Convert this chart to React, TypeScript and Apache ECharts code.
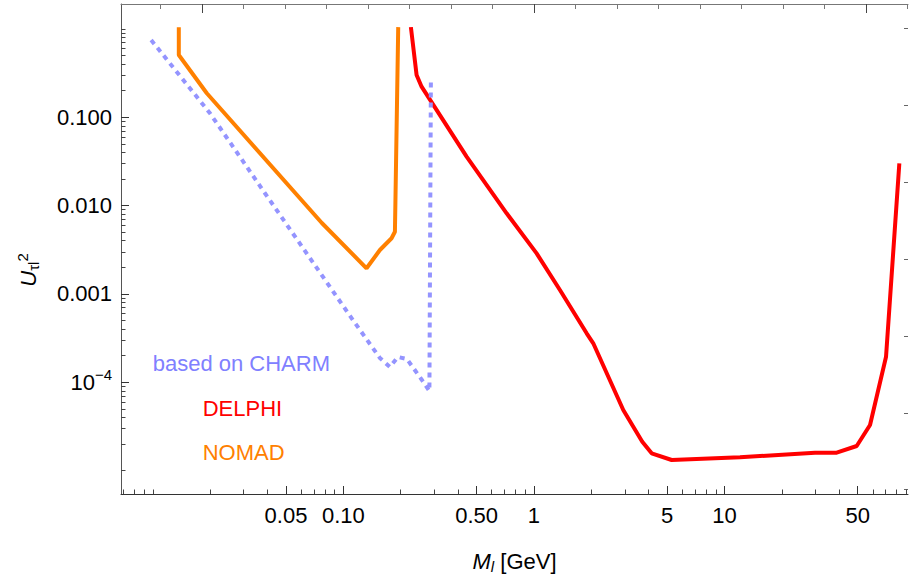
import React, { useEffect, useRef } from 'react';
import * as echarts from 'echarts';

// ---- data (mass in GeV, mixing |U|^2) ----
const charmMass = [0.0098, 0.0199, 0.0387, 0.1122, 0.1555, 0.1754, 0.1932, 0.2155, 0.2583, 0.2828, 0.2879];
const charmU = [0.75, 0.1119, 0.01389, 5.06e-4, 1.88e-4, 1.487e-4, 1.93e-4, 1.83e-4, 1.06e-4, 7.95e-5, 0.2645];

const nomadMass = [0.01369, 0.01369, 0.0192, 0.0771, 0.1323, 0.1555, 0.179, 0.1864, 0.1875, 0.194];
const nomadU = [1.05, 0.5077, 0.187, 6.35e-3, 1.95e-3, 3.14e-3, 4.27e-3, 5.06e-3, 0.0107, 1.05];

const delphiMass = [0.2261, 0.2422, 0.2573, 0.4432, 0.7189, 1.033, 1.369, 1.891, 2.048, 2.943, 3.703, 4.148, 5.283, 12.06, 29.85, 38.8, 49.4, 58.04, 70.43, 82.7];
const delphiU = [1.05, 0.3013, 0.2221, 0.0358, 8.18e-3, 2.88e-3, 1.107e-3, 3.58e-4, 2.76e-4, 4.84e-5, 2.12e-5, 1.566e-5, 1.315e-5, 1.411e-5, 1.591e-5, 1.591e-5, 1.895e-5, 3.276e-5, 1.944e-4, 0.0301];

// ---- axes ----
const xRange = [0.006808, 91.83];
const yRange = [5.42e-6, 1.919];

const xMajor = [0.05, 0.1, 0.5, 1, 5, 10, 50];
const xMajorLabels = ['0.05', '0.10', '0.50', '1', '5', '10', '50'];
const xMinor = [0.007, 0.008, 0.009, 0.01, 0.02, 0.03, 0.04, 0.06, 0.07, 0.08, 0.09, 0.2, 0.3, 0.4, 0.6, 0.7, 0.8, 0.9, 2, 3, 4, 6, 7, 8, 9, 20, 30, 40, 60, 70, 80, 90];

const yMajor = [0.1, 0.01, 0.001, 1e-4];
const yMajorLabels = ['0.100', '0.010', '0.001', '{b|10}{s|−4}'];
const yMinor = [1e-5, 2e-5, 3e-5, 4e-5, 5e-5, 6e-5, 7e-5, 8e-5, 9e-5, 2e-4, 3e-4, 4e-4, 5e-4, 6e-4, 7e-4, 8e-4, 9e-4, 2e-3, 3e-3, 4e-3, 5e-3, 6e-3, 7e-3, 8e-3, 9e-3, 0.02, 0.03, 0.04, 0.05, 0.06, 0.07, 0.08, 0.09, 0.2, 0.3, 0.4, 0.5, 0.6, 0.7, 0.8, 0.9, 1];

// frame ticks of the top and right edges (unlabelled)
const topRange = [-1.952, 17.012];
const topMinor = [-1, 1, 2, 3, 4, 5, 6, 7, 9, 10, 11, 12, 13, 14, 15, 17];
const topMajor = [0, 8, 16];
const rightRange = [-0.316, 6.056];
const rightTicks = [0, 1, 2, 3, 4, 5, 6];

const FONT = '"Liberation Sans", Arial, Helvetica, sans-serif';
const lg = Math.log10;

function nearestLabel(v: number, vals: number[], labels: string[]) {
  let best = 0;
  let d = Infinity;
  vals.forEach((x, i) => {
    const dd = Math.abs(lg(x) - v);
    if (dd < d) { d = dd; best = i; }
  });
  return labels[best];
}

export default function App() {
  const ref = useRef<HTMLDivElement>(null);
  useEffect(() => {
    const chart = echarts.init(ref.current!, null, { renderer: 'svg' });
    const pts = (m: number[], u: number[]) => m.map((x, i) => [lg(x), lg(u[i])]);
    const noLine = { show: false, onZero: false };
    const option: any = {
      animation: false,
      backgroundColor: '#ffffff',
      grid: { left: 121, right: 1, top: 4, bottom: 85, show: false, containLabel: false, outerBoundsMode: 'none' },
      xAxis: [
        {
          type: 'value', position: 'bottom', min: lg(xRange[0]), max: lg(xRange[1]),
          axisLine: { show: true, onZero: false, lineStyle: { color: '#333', width: 1 } },
          axisTick: { show: true, inside: true, length: 8, customValues: xMajor.map(lg), lineStyle: { color: '#333' } },
          axisLabel: {
            show: true, customValues: xMajor.map(lg), margin: 10, fontSize: 22, color: '#000', fontFamily: FONT, fontWeight: 'normal',
            formatter: (v: number) => nearestLabel(v, xMajor, xMajorLabels),
          },
          splitLine: { show: false },
          name: '{m|M}{l|l}{g| [GeV]}', nameLocation: 'middle', nameGap: 54,
          nameTextStyle: {
            rich: {
              m: { fontSize: 22, fontStyle: 'italic', fontFamily: FONT, color: '#000', lineHeight: 26 },
              l: { fontSize: 15, fontStyle: 'italic', fontFamily: FONT, color: '#000', verticalAlign: 'bottom', lineHeight: 15 },
              g: { fontSize: 22, fontFamily: FONT, color: '#000', lineHeight: 26 },
            },
          },
        },
        {
          type: 'value', position: 'bottom', min: lg(xRange[0]), max: lg(xRange[1]),
          axisLine: noLine,
          axisTick: { show: true, inside: true, length: 4.5, customValues: xMinor.map(lg), lineStyle: { color: '#444' } },
          axisLabel: { show: false },
          splitLine: { show: false },
        },
        {
          type: 'value', position: 'top', min: topRange[0], max: topRange[1],
          axisLine: { show: true, onZero: false, lineStyle: { color: '#777', width: 1 } },
          axisTick: { show: true, inside: true, length: 5, customValues: topMinor, lineStyle: { color: '#777' } },
          axisLabel: { show: false },
          splitLine: { show: false },
        },
        {
          type: 'value', position: 'top', min: topRange[0], max: topRange[1],
          axisLine: noLine,
          axisTick: { show: true, inside: true, length: 9, customValues: topMajor, lineStyle: { color: '#444' } },
          axisLabel: { show: false },
          splitLine: { show: false },
        },
      ],
      yAxis: [
        {
          type: 'value', position: 'left', min: lg(yRange[0]), max: lg(yRange[1]),
          axisLine: { show: true, onZero: false, lineStyle: { color: '#555', width: 1 } },
          axisTick: { show: true, inside: true, length: 8, customValues: yMajor.map(lg), lineStyle: { color: '#333' } },
          axisLabel: {
            show: true, customValues: yMajor.map(lg), margin: 9, fontSize: 22, color: '#000', fontFamily: FONT, fontWeight: 'normal',
            formatter: (v: number) => nearestLabel(v, yMajor, yMajorLabels),
            rich: {
              b: { fontSize: 22, fontFamily: FONT, color: '#000', lineHeight: 30 },
              s: { fontSize: 15, fontFamily: FONT, color: '#000', lineHeight: 18, verticalAlign: 'top' },
            },
          },
          splitLine: { show: false },
        },
        {
          type: 'value', position: 'left', min: lg(yRange[0]), max: lg(yRange[1]),
          axisLine: noLine,
          axisTick: { show: true, inside: true, length: 4.5, customValues: yMinor.map(lg), lineStyle: { color: '#444' } },
          axisLabel: { show: false },
          splitLine: { show: false },
        },
        {
          type: 'value', position: 'right', inverse: true, min: rightRange[0], max: rightRange[1],
          axisLine: noLine,
          axisTick: { show: true, inside: true, length: 4, customValues: rightTicks, lineStyle: { color: '#666' } },
          axisLabel: { show: false },
          splitLine: { show: false },
        },
      ],
      series: [
        {
          name: 'DELPHI', type: 'line', xAxisIndex: 0, yAxisIndex: 0, showSymbol: false, symbol: 'none', silent: true,
          data: pts(delphiMass, delphiU), lineStyle: { color: '#ff0000', width: 4 }, z: 2,
        },
        {
          name: 'NOMAD', type: 'line', xAxisIndex: 0, yAxisIndex: 0, showSymbol: false, symbol: 'none', silent: true,
          data: pts(nomadMass, nomadU), lineStyle: { color: '#ff8000', width: 4 }, z: 3,
        },
        {
          name: 'based on CHARM', type: 'line', xAxisIndex: 0, yAxisIndex: 0, showSymbol: false, symbol: 'none', silent: true,
          data: pts(charmMass, charmU), lineStyle: { color: '#9494ff', width: 4, type: [5, 5] }, z: 4,
        },
      ],
      graphic: [
        {
          type: 'text', x: 28, y: 270, rotation: Math.PI / 2, silent: true,
          style: {
            text: '{u|U}{t|τl}{p|2}', align: 'center', verticalAlign: 'middle',
            rich: {
              u: { fontSize: 22, fontStyle: 'italic', fontFamily: FONT, fill: '#000', lineHeight: 26 },
              t: { fontSize: 15, fontFamily: FONT, fill: '#000', verticalAlign: 'bottom', lineHeight: 15 },
              p: { fontSize: 15, fontFamily: FONT, fill: '#000', verticalAlign: 'top', lineHeight: 15 },
            },
          },
        },
        {
          type: 'text', x: 152.7, y: 363.3, silent: true,
          style: { text: 'based on CHARM', fill: '#8080ff', font: `22px ${FONT}`, align: 'left', verticalAlign: 'middle' },
        },
        {
          type: 'text', x: 202.7, y: 408.3, silent: true,
          style: { text: 'DELPHI', fill: '#ff0000', font: `22px ${FONT}`, align: 'left', verticalAlign: 'middle' },
        },
        {
          type: 'text', x: 202.7, y: 452.8, silent: true,
          style: { text: 'NOMAD', fill: '#ff8000', font: `22px ${FONT}`, align: 'left', verticalAlign: 'middle' },
        },
      ],
    };
    chart.setOption(option);
    return () => chart.dispose();
  }, []);
  return (
    <div
      ref={ref}
      style={{ position: 'fixed', left: 0, top: 0, width: 909, height: 579, background: '#fff' }}
    />
  );
}
